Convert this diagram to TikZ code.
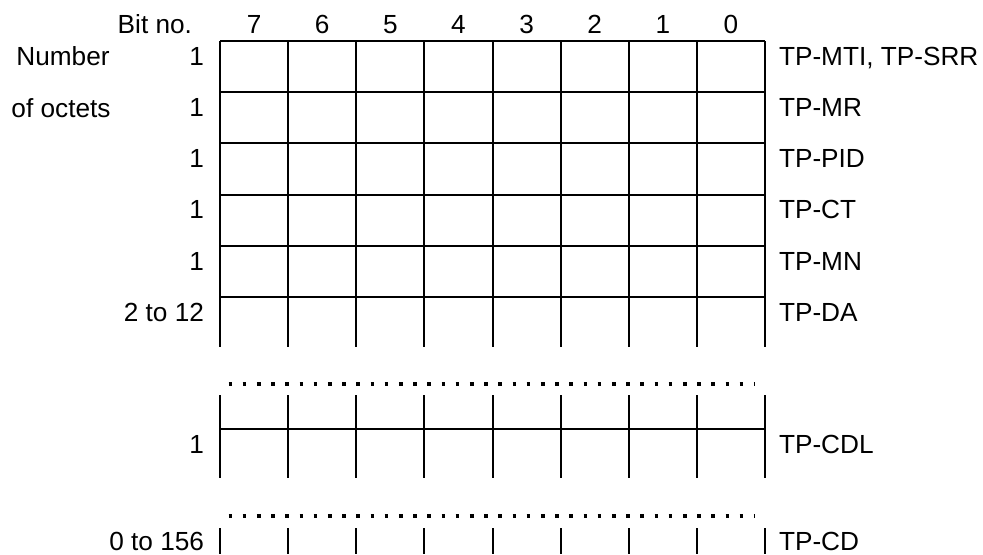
\documentclass[tikz,border=0pt]{standalone}
\usepackage{fontspec}
\setmainfont{Liberation Sans}
\usepackage{tikz}

\begin{document}
\begin{tikzpicture}[x=0.5pt,y=-0.5pt,line width=1pt,
  lbl/.style={font=\fontsize{13.1}{15}\selectfont,inner sep=0pt},
  dotrow/.style={line width=1.8pt,dash pattern=on 1.8pt off 5.3pt}]
  \useasboundingbox (0,0) rectangle (983,554);
  \pgfmathsetmacro{\xl}{220}\pgfmathsetmacro{\xr}{765}\pgfmathsetmacro{\cw}{68.125}\pgfmathsetmacro{\rh}{51.2}
  % header line
  \node[lbl,anchor=base east] (bitno) at (193,33) {Bit no.};
  \foreach \b in {0,...,7}{\node[lbl,anchor=base] (bit\b) at ({\xl+(7.5-\b)*\cw},33) {\b};}
  \node[lbl,anchor=base] (number) at (63,65.5) {Number};
  \node[lbl,anchor=base] (octets) at (61,117) {of octets};
  % upper block of six octet rows
  \foreach \r in {0,...,5}{\draw (\xl,{41+\r*\rh}) -- (\xr,{41+\r*\rh});}
  \foreach \c in {0,...,8}{\draw ({\xl+\c*\cw},41) -- ({\xl+\c*\cw},347);}
  \foreach \n [count=\r from 0] in {1,1,1,1,1,2 to 12}{\node[lbl,anchor=base east] (len\r) at (205,{65.3+\r*\rh}) {\n};}
  \foreach \f [count=\r from 0] in {{TP-MTI, TP-SRR},TP-MR,TP-PID,TP-CT,TP-MN,TP-DA}{\node[lbl,anchor=base west] (fld\r) at (778,{65.3+\r*\rh}) {\f};}
  % gaps
  \foreach \y in {384,516}{\draw[dotrow] (228.5,\y) -- (754,\y);}
  % TP-CDL octet
  \foreach \c in {0,...,8}{\draw ({\xl+\c*\cw},395) -- ({\xl+\c*\cw},478);}
  \draw (\xl,429) -- (\xr,429);
  \node[lbl,anchor=base east] (lencdl) at (205,453.5) {1};
  \node[lbl,anchor=base west] (fldcdl) at (778,453.5) {TP-CDL};
  % TP-CD octets
  \foreach \c in {0,...,8}{\draw ({\xl+\c*\cw},528) -- ({\xl+\c*\cw},554);}
  \node[lbl,anchor=base east] (lencd) at (205,550.5) {0 to 156};
  \node[lbl,anchor=base west] (fldcd) at (778,550.5) {TP-CD};
\end{tikzpicture}
\end{document}
